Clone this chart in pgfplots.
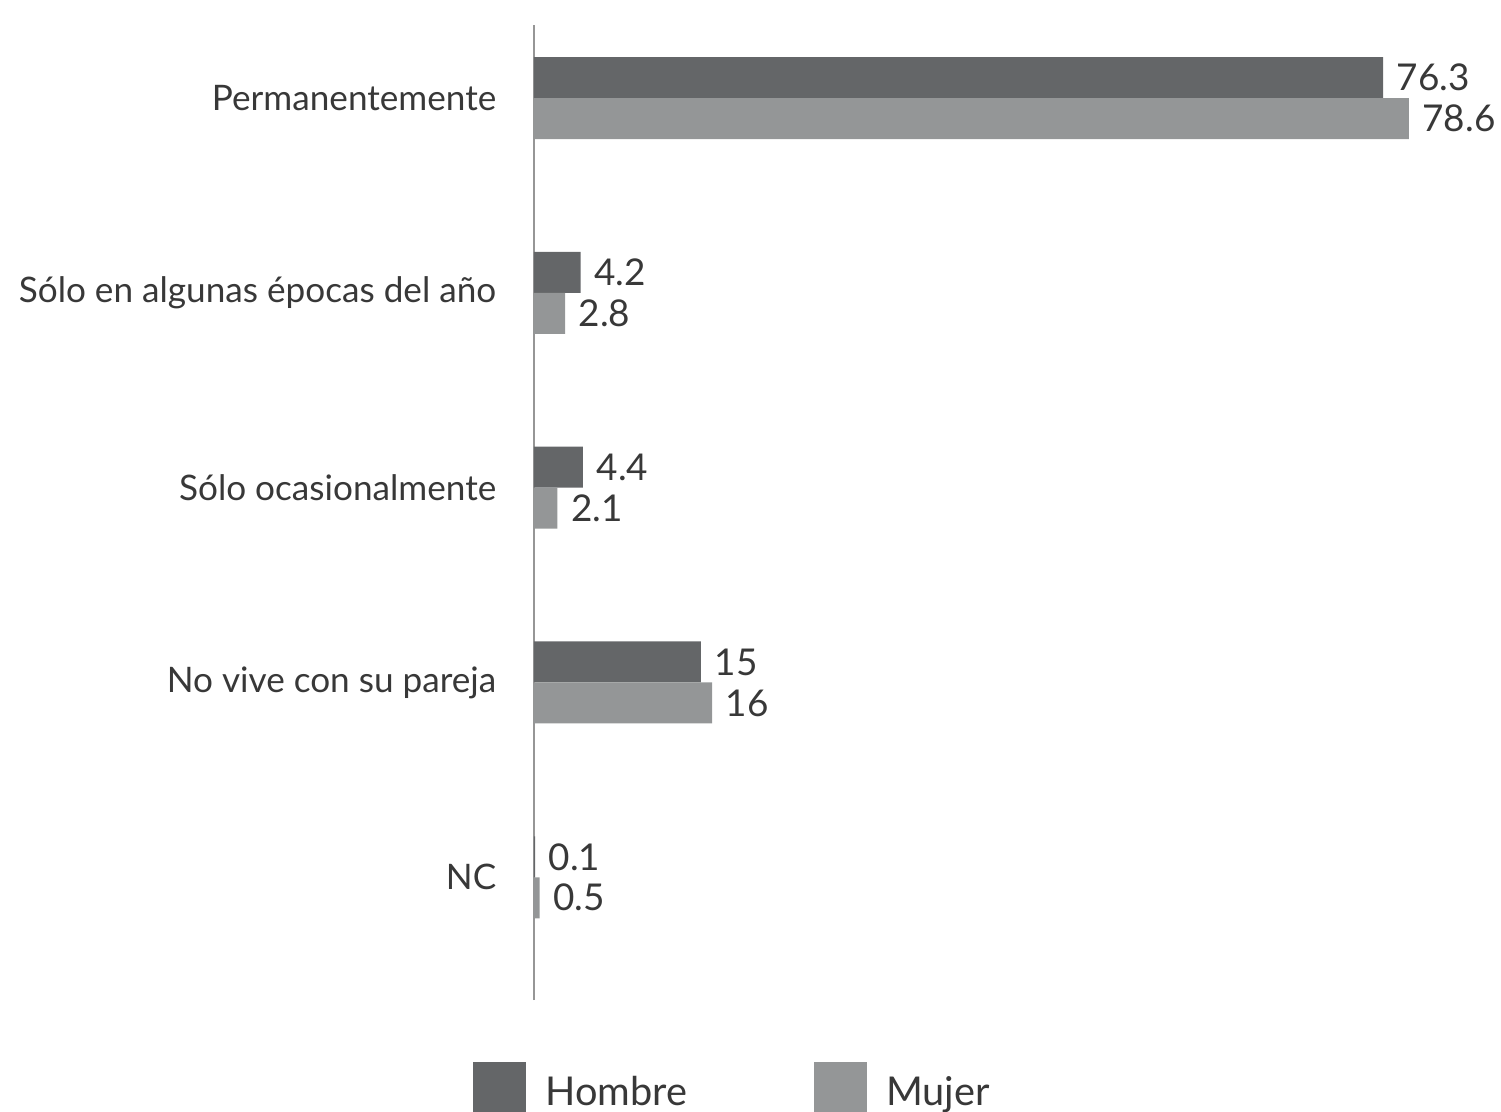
\documentclass[border=0pt]{standalone}
\usepackage{fontspec}
\setmainfont{Lato}
\usepackage{pgfplots}
\pgfplotsset{compat=1.18}
\definecolor{hombre}{RGB}{100,102,104}
\definecolor{mujer}{RGB}{148,150,151}
\definecolor{axisgray}{RGB}{150,150,150}
\colorlet{labeltext}{black!78}

\begin{document}
\begin{tikzpicture}
  % frame of the whole picture (1 px = 0.1 mm)
  \useasboundingbox (-53.4mm,-11.1mm) rectangle (96.7mm,100mm);
  \begin{axis}[
      at={(0,0)}, anchor=south west,
      scale only axis,
      width=96.83mm, height=97.5mm,
      xbar, bar width=4.1mm,
      xmin=0, xmax=87,
      ymin=-0.63, ymax=4.375,
      hide x axis,
      axis y line*=left,
      y axis line style={draw=axisgray, line width=0.6pt},
      ytick={0,1,2,3,4},
      yticklabels={NC, No vive con su pareja, Sólo ocasionalmente, Sólo en algunas épocas del año, Permanentemente},
      ytick style={draw=none},
      yticklabel style={font=\fontsize{10}{12}\selectfont, text=labeltext, inner sep=0pt, xshift=-2.2mm},
      nodes near coords,
      nodes near coords style={font=\fontsize{10.5}{12}\selectfont, text=labeltext, anchor=west, inner sep=0pt, xshift=1.3mm},
      point meta=explicit symbolic,
      clip=false,
      legend columns=2,
      legend style={draw=none, at={(-7.2mm,-9mm)}, anchor=west,
        font=\fontsize{11.3}{13}\selectfont, text=labeltext,
        /tikz/every odd column/.append style={column sep=1.2mm},
        /tikz/every even column/.append style={column sep=12mm}},
      legend image code/.code={\fill (0mm,-2.4mm) rectangle (5.3mm,3.1mm);},
    ]
    \addplot[fill=hombre, draw=none, bar shift=2.05mm] coordinates {
      (76.3,4) [76.3]
      (4.2,3) [4.2]
      (4.4,2) [4.4]
      (15,1) [15]
      (0.1,0) [0.1]
    };
    \addlegendentry{Hombre}
    \addplot[fill=mujer, draw=none, bar shift=-2.05mm] coordinates {
      (78.6,4) [78.6]
      (2.8,3) [2.8]
      (2.1,2) [2.1]
      (16,1) [16]
      (0.5,0) [0.5]
    };
    \addlegendentry{Mujer}
  \end{axis}
\end{tikzpicture}
\end{document}
